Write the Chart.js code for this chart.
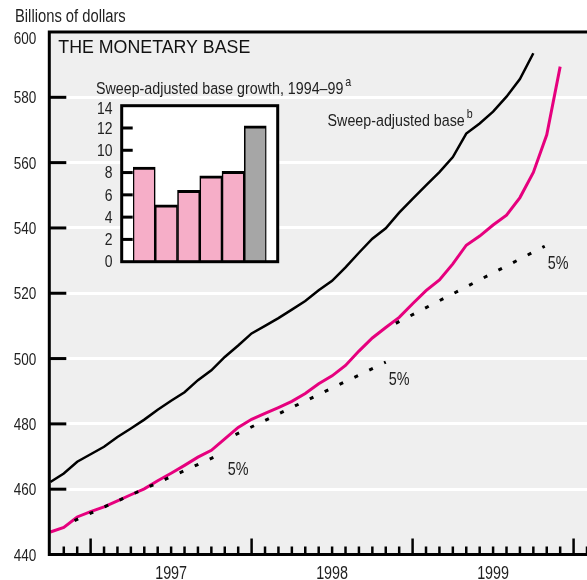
<!DOCTYPE html>
<html lang="en">
<head>
<meta charset="UTF-8">
<title>The Monetary Base</title>
<script src="https://cdn.jsdelivr.net/npm/chart.js"></script>
<style>
  body { margin: 0; background: #fff; }
  .wrap { position: relative; width: 587px; height: 580px; }
  #base { position: absolute; left: 0; top: 0; }
  #growth { position: absolute; left: 80px; top: 96px; }
</style>
</head>
<body>
<div class="wrap">
  <canvas id="base" width="587" height="580"></canvas>
  <canvas id="growth" width="205" height="182"></canvas>
</div>
<script>
// months counted from January 1997 (0 = Jan 97, 12 = Jan 98 ...)
const months = [-3, -2, -1, 0, 1, 2, 3, 4, 5, 6, 7, 8, 9, 10, 11, 12, 13, 14, 15, 16,
                17, 18, 19, 20, 21, 22, 23, 24, 25, 26, 27, 28, 29, 30, 31, 32, 33, 34, 35];

// billions of dollars
const sweepAdjusted = [462.2, 464.8, 468.4, 470.7, 473.0, 476.0, 478.6, 481.3, 484.3, 487.1,
                       489.7, 493.4, 496.4, 500.5, 504.0, 507.7, 510.0, 512.4, 515.0, 517.6,
                       520.9, 523.8, 527.9, 532.4, 536.7, 539.9, 544.7, 548.9, 553.0, 557.1,
                       561.7, 568.9, 572.0, 575.6, 580.2, 585.6, 593.5];
const monetaryBase = [446.9, 448.3, 451.5, 453.1, 454.6, 456.4, 458.3, 460.1, 462.6, 464.9,
                      467.3, 469.8, 471.9, 475.4, 478.9, 481.4, 483.2, 485.0, 486.9, 489.3,
                      492.3, 494.7, 497.9, 502.3, 506.3, 509.5, 512.6, 516.8, 520.8, 524.1,
                      529.0, 534.7, 537.5, 540.9, 543.9, 549.3, 557.0, 568.5, 589.4];

// 5% growth paths
const trendStartMonth = [-1.2, 10.8, 22.75];
const trendStartValue = [450.4, 476.7, 510.8];
const trendEndMonth = [10.0, 22.0, 33.85];
const trendEndValue = [471.3, 498.9, 534.4];
const trendLabel = '5%';

const yearLabels = ['1997', '1998', '1999'];
const yearMid = [6, 18, 30];

// inset: sweep-adjusted base growth, percent
const growthYears = ['1994', '1995', '1996', '1997', '1998', '1999'];
const growthRates = [8.5, 5.1, 6.4, 7.7, 8.1, 12.2];

const FAMILY = "'Liberation Sans', Arial, sans-serif";
const SQUEEZE = 0.82;   // narrow face
const TEXT = '#222';

// draws condensed text, returns its width
function narrow(c, str, x, y, size, align) {
  c.save();
  c.font = size + 'px ' + FAMILY;
  const w = c.measureText(str).width * SQUEEZE;
  const left = align === 'right' ? x - w : align === 'center' ? x - w / 2 : x;
  c.translate(left, y);
  c.scale(SQUEEZE, 1);
  c.textAlign = 'left';
  c.fillText(str, 0, 0);
  c.restore();
  return w;
}

function withSup(c, str, sup, x, y, size, align) {
  c.save();
  c.font = size + 'px ' + FAMILY;
  const w = c.measureText(str).width * SQUEEZE;
  c.restore();
  const left = align === 'right' ? x - w : x;
  narrow(c, str, left, y, size, 'left');
  narrow(c, sup, left + w + 2, y - 8, Math.round(size * 0.72), 'left');
}

const frame = {
  id: 'frame',
  beforeDraw(chart) {
    const a = chart.chartArea, c = chart.ctx;
    c.save();
    c.fillStyle = '#efefef';
    c.fillRect(a.left, a.top, a.right - a.left, a.bottom - a.top);
    c.restore();
  },
  afterDraw(chart) {
    const a = chart.chartArea, c = chart.ctx;
    const xs = chart.scales.x, ys = chart.scales.y;
    c.save();
    c.strokeStyle = '#000';
    c.lineWidth = 3;

    // short ticks on the value axis
    ys.ticks.forEach(t => {
      if (t.value <= ys.min || t.value >= ys.max) return;
      const py = ys.getPixelForValue(t.value);
      c.beginPath();
      c.moveTo(a.left, py);
      c.lineTo(a.left + 17, py);
      c.stroke();
    });

    // monthly ticks, taller at each January
    c.lineWidth = 2.5;
    for (let m = Math.ceil(xs.min); m <= xs.max; m++) {
      const px = xs.getPixelForValue(m);
      if (px < a.left + 4) continue;
      const h = m % 12 === 0 ? 16 : 8;
      c.beginPath();
      c.moveTo(px, a.bottom);
      c.lineTo(px, a.bottom - h);
      c.stroke();
    }

    // frame
    c.lineWidth = 3;
    c.lineCap = 'square';
    c.beginPath();
    c.moveTo(a.right, a.top);
    c.lineTo(a.left, a.top);
    c.lineTo(a.left, a.bottom);
    c.lineTo(a.right, a.bottom);
    c.stroke();

    c.fillStyle = TEXT;
    c.textBaseline = 'middle';
    ys.ticks.forEach(t => {
      const py = Math.max(ys.getPixelForValue(t.value) + 1.5, a.top + 7);
      narrow(c, String(t.value), a.left - 13, py, 16.5, 'right');
    });
    yearMid.forEach((m, i) => {
      narrow(c, yearLabels[i], xs.getPixelForValue(m), a.bottom + 20, 17.5, 'center');
    });

    c.textBaseline = 'alphabetic';
    narrow(c, 'Billions of dollars', 15, 21.7, 18, 'left');

    c.save();
    c.fillStyle = '#111';
    c.font = '17.8px ' + FAMILY;
    c.textAlign = 'left';
    c.fillText('THE MONETARY BASE', a.left + 9, a.top + 21.3);
    c.restore();

    withSup(c, 'Sweep-adjusted base growth, 1994\u201399', 'a', 96, 94, 17.4, 'left');

    // label beside the sweep-adjusted line
    const k = 31;
    const lx = xs.getPixelForValue(months[k]);
    const ly = ys.getPixelForValue(sweepAdjusted[k]);
    withSup(c, 'Sweep-adjusted base', 'b', lx - 1.5, ly - 7.5, 17.4, 'right');

    // 5% labels under the end of each path
    c.textBaseline = 'middle';
    trendEndMonth.forEach((m, i) => {
      const ex = xs.getPixelForValue(m);
      const ey = ys.getPixelForValue(trendEndValue[i]);
      narrow(c, trendLabel, ex + 3, ey + 18, 17.5, 'left');
    });
    c.restore();
  }
};

const lines = [];
trendStartMonth.forEach((m, i) => {
  lines.push({
    data: [{ x: m, y: trendStartValue[i] }, { x: trendEndMonth[i], y: trendEndValue[i] }],
    borderColor: '#000',
    borderWidth: 3,
    borderDash: [4, 12.5],
    borderCapStyle: 'butt'
  });
});
lines.push({
  data: sweepAdjusted.map((v, i) => ({ x: months[i], y: v })),
  borderColor: '#000',
  borderWidth: 2.5
});
lines.push({
  data: monetaryBase.map((v, i) => ({ x: months[i], y: v })),
  borderColor: '#e6007e',
  borderWidth: 3
});

new Chart(document.getElementById('base'), {
  type: 'line',
  data: { datasets: lines },
  options: {
    responsive: false,
    animation: false,
    layout: { padding: { top: 32, left: 0, right: 0, bottom: 0 } },
    elements: { point: { radius: 0 }, line: { tension: 0 } },
    scales: {
      x: {
        type: 'linear',
        min: -3.08,
        max: 37,
        afterFit: s => { s.height = 25.5; },
        grid: { display: false },
        border: { display: false },
        ticks: { display: false }
      },
      y: {
        min: 440,
        max: 600,
        afterFit: s => { s.width = 49.3; },
        grid: { color: '#fff', lineWidth: 3, drawTicks: false },
        border: { display: false },
        ticks: { stepSize: 20, display: false }
      }
    },
    plugins: { legend: { display: false }, tooltip: { enabled: false } }
  },
  plugins: [frame]
});

// white box with its own frame around the growth bars
const BOX_PAD_L = 11.3, BOX_PAD_R = 11.2;
const insetBox = {
  id: 'insetBox',
  beforeDraw(chart) {
    const a = chart.chartArea, c = chart.ctx;
    c.save();
    c.fillStyle = '#fff';
    c.fillRect(a.left - BOX_PAD_L, a.top, a.right - a.left + BOX_PAD_L + BOX_PAD_R, a.bottom - a.top);
    c.restore();
  },
  afterDraw(chart) {
    const a = chart.chartArea, c = chart.ctx, ys = chart.scales.y;
    const left = a.left - BOX_PAD_L;
    c.save();
    c.strokeStyle = '#000';
    c.lineWidth = 3;
    ys.ticks.forEach(t => {
      if (t.value <= ys.min || t.value >= ys.max) return;
      const py = ys.getPixelForValue(t.value);
      c.beginPath();
      c.moveTo(left, py);
      c.lineTo(left + 11, py);
      c.stroke();
    });
    c.strokeRect(left, a.top, a.right - a.left + BOX_PAD_L + BOX_PAD_R, a.bottom - a.top);

    c.fillStyle = TEXT;
    c.textBaseline = 'middle';
    ys.ticks.forEach(t => {
      const py = Math.max(ys.getPixelForValue(t.value) + 1, a.top + 4);
      narrow(c, String(t.value), left - 9.2, py, 17, 'right');
    });
    c.restore();
  }
};

new Chart(document.getElementById('growth'), {
  type: 'bar',
  data: {
    labels: growthYears,
    datasets: [{
      data: growthRates,
      backgroundColor: growthYears.map((y, i) => i === growthYears.length - 1 ? '#a6a6a6' : '#f6aec8'),
      borderColor: '#000',
      borderWidth: { top: 3, left: 1.6, right: 1.6, bottom: 0 },
      borderSkipped: false,
      barPercentage: 1,
      categoryPercentage: 1
    }]
  },
  options: {
    responsive: false,
    animation: false,
    layout: { padding: { top: 9.7, right: 18.5, bottom: 16.3, left: 0 } },
    scales: {
      x: { display: false },
      y: {
        min: 0,
        max: 14,
        afterFit: s => { s.width = 53; },
        grid: { display: false },
        border: { display: false },
        ticks: { stepSize: 2, display: false }
      }
    },
    plugins: { legend: { display: false }, tooltip: { enabled: false } }
  },
  plugins: [insetBox]
});
</script>
</body>
</html>
